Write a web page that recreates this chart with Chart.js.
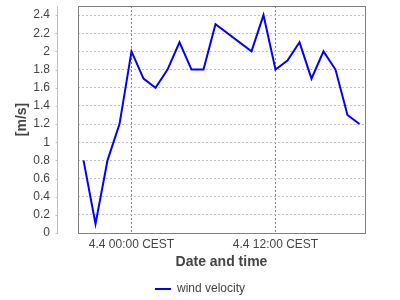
<!DOCTYPE html>
<html>
<head>
<meta charset="utf-8">
<script src="https://cdn.jsdelivr.net/npm/chart.js@4/dist/chart.umd.min.js"></script>
<style>
  html, body { margin: 0; padding: 0; background: #ffffff; }
  #wrap { width: 400px; height: 300px; }
</style>
</head>
<body>
<div id="wrap"><canvas id="c" width="400" height="300"></canvas></div>
<script>
// Hours relative to 4.4 00:00 CEST
const hours = [-4, -3, -2, -1, 0, 1, 2, 3, 4, 5, 6, 7, 10, 11, 12, 13, 14, 15, 16, 17, 18, 19];
const windVelocity = [0.8, 0.1, 0.8, 1.2, 2.0, 1.7, 1.6, 1.8, 2.1, 1.8, 1.8, 2.3, 2.0, 2.4, 1.8, 1.9, 2.1, 1.7, 2.0, 1.8, 1.3, 1.2];
const xTickHours = [0, 12];
const xTickLabels = ['4.4 00:00 CEST', '4.4 12:00 CEST'];
const yTicks = [0, 0.2, 0.4, 0.6, 0.8, 1, 1.2, 1.4, 1.6, 1.8, 2, 2.2, 2.4];
const seriesName = 'wind velocity';
const xTitle = 'Date and time';
const yTitle = '[m/s]';

const FONT = "'Liberation Sans', Arial, sans-serif";
const TXT = '#444444';

const frame = {
  id: 'frame',
  afterDraw(chart) {
    const ctx = chart.ctx;
    const a = chart.chartArea;
    const y = chart.scales.y;
    ctx.save();
    ctx.strokeStyle = '#808080';
    ctx.lineWidth = 1;
    ctx.strokeRect(Math.round(a.left) + 0.5, Math.round(a.top) + 0.5,
                   Math.round(a.right - a.left), Math.round(a.bottom - a.top));
    const ax = Math.round(a.left) - 21 + 0.5;
    ctx.strokeStyle = '#c0c0c0';
    ctx.beginPath();
    ctx.moveTo(ax, a.top);
    ctx.lineTo(ax, a.bottom + 0.5);
    y.ticks.forEach(t => {
      const py = Math.round(y.getPixelForValue(t.value)) + 0.5;
      ctx.moveTo(ax - 2, py);
      ctx.lineTo(ax, py);
    });
    ctx.stroke();
    ctx.restore();
  }
};

new Chart(document.getElementById('c'), {
  type: 'line',
  data: {
    datasets: [{
      label: seriesName,
      data: hours.map((h, i) => ({ x: h, y: windVelocity[i] })),
      borderColor: '#0000ff',
      backgroundColor: '#0000ff',
      borderWidth: 2,
      pointRadius: 0,
      tension: 0,
      fill: false
    }]
  },
  options: {
    responsive: false,
    animation: false,
    devicePixelRatio: 1,
    layout: { padding: { top: 6, right: 0, left: 0, bottom: -5 } },
    plugins: {
      legend: {
        position: 'bottom',
        labels: {
          usePointStyle: true,
          pointStyle: 'line',
          pointStyleWidth: 16,
          boxHeight: 12,
          color: TXT,
          padding: 3,
          font: { family: FONT, size: 12 }
        }
      },
      tooltip: { enabled: false }
    },
    scales: {
      x: {
        type: 'linear',
        min: -4.46,
        max: 19.46,
        afterBuildTicks: s => { s.ticks = xTickHours.map(v => ({ value: v })); },
        afterFit: s => { s.height = 47; s.paddingLeft = 0; s.paddingRight = 35; },
        ticks: {
          callback: v => xTickLabels[xTickHours.indexOf(v)],
          color: TXT,
          padding: 4,
          maxRotation: 0,
          autoSkip: false,
          font: { family: FONT, size: 12 }
        },
        grid: { color: '#808080', drawTicks: false },
        border: { display: false, dash: [2, 2] },
        title: {
          display: true,
          text: xTitle,
          color: TXT,
          font: { family: FONT, size: 14, weight: 'bold' },
          padding: { top: 0, bottom: 9.6 }
        }
      },
      y: {
        min: 0,
        max: 2.5,
        afterBuildTicks: s => { s.ticks = yTicks.map(v => ({ value: v })); },
        afterFit: s => { s.width = 78; s.paddingTop = 0; s.paddingBottom = 0; },
        ticks: {
          autoSkip: false,
          callback: v => String(v),
          color: TXT,
          padding: 28,
          font: { family: FONT, size: 12 }
        },
        grid: { color: '#c0c0c0', drawTicks: false },
        border: { display: false, dash: [2, 2] },
        title: {
          display: true,
          text: yTitle,
          color: TXT,
          font: { family: FONT, size: 14, weight: 'bold' },
          padding: { top: 13.5, bottom: 0 }
        }
      }
    }
  },
  plugins: [frame]
});
</script>
</body>
</html>
